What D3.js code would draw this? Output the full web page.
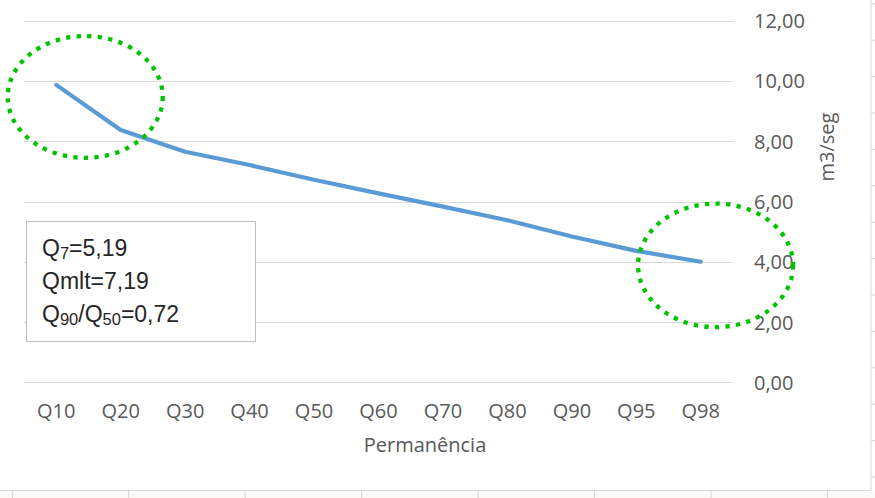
<!DOCTYPE html>
<html>
<head>
<meta charset="utf-8">
<script src="https://cdn.jsdelivr.net/npm/d3@7"></script>
<style>
  html, body { margin: 0; padding: 0; background: #ffffff; }
  svg { display: block; }
</style>
</head>
<body>
<svg id="chart" width="875" height="498"></svg>
<script>
// Curva de permanência: vazão (m3/seg) por percentil de permanência
const categories = ["Q10", "Q20", "Q30", "Q40", "Q50", "Q60", "Q70", "Q80", "Q90", "Q95", "Q98"];
const vazao = [9.87, 8.37, 7.65, 7.21, 6.72, 6.27, 5.83, 5.38, 4.84, 4.36, 4.00];
const yTicks = [0, 2, 4, 6, 8, 10, 12];
const yTitle = "m3/seg";
const xTitle = "Permanência";
// Linhas da caixa de texto: trechos [texto, é subscrito]
const boxLines = [
  [["Q", false], ["7", true], ["=5,19", false]],
  [["Qmlt=7,19", false]],
  [["Q", false], ["90", true], ["/Q", false], ["50", true], ["=0,72", false]]
];
// Destaques: categoria de referência, deslocamento em bandas, centro e meia-altura em m3/seg
const highlights = [
  { cat: "Q10", dx: 0.45, center: 9.47, ry: 2.02 },
  { cat: "Q98", dx: 0.23, center: 3.88, ry: 2.05 }
];

const W = 875, H = 498;
const svg = d3.select("#chart");
const font = "'Open Sans', 'Noto Sans', sans-serif";
const boxFont = "'Liberation Sans', Arial, sans-serif";
const labelColor = "#595959";

// Fundo de planilha por trás do gráfico (bordas de células)
const sheet = svg.append("g");
sheet.append("rect").attr("x", 0).attr("y", 0).attr("width", W).attr("height", H).attr("fill", "#ffffff");
sheet.append("rect").attr("x", 0).attr("y", 491).attr("width", W).attr("height", 7).attr("fill", "#fbfaf9");
d3.range(12.3, W, 116.45).forEach(x => {
  sheet.append("line").attr("x1", x).attr("x2", x).attr("y1", 491).attr("y2", H)
    .attr("stroke", "#d4d4d4").attr("stroke-width", 1);
});
d3.range(3.8, H, 36.4).forEach(y => {
  sheet.append("line").attr("x1", 871).attr("x2", W).attr("y1", y).attr("y2", y)
    .attr("stroke", "#d4d4d4").attr("stroke-width", 1);
});
// Área do gráfico
svg.append("rect").attr("x", -1).attr("y", -1).attr("width", 872).attr("height", 491.5)
  .attr("fill", "#ffffff").attr("stroke", "#d9d9d9").attr("stroke-width", 1);

const plot = { left: 24, right: 733, top: 20.7, bottom: 382.3 };

const x = d3.scaleBand().domain(categories).range([plot.left, plot.right]).paddingInner(0).paddingOuter(0);
const y = d3.scaleLinear().domain([0, 12]).range([plot.bottom, plot.top]);
const cx = c => x(c) + x.bandwidth() / 2;

const locale = d3.formatLocale({ decimal: ",", thousands: ".", grouping: [3], currency: ["R$", ""] });
const fmt = locale.format(".2f");

// Linhas de grade horizontais
svg.append("g")
  .selectAll("line")
  .data(yTicks)
  .join("line")
  .attr("x1", plot.left).attr("x2", plot.right)
  .attr("y1", d => Math.round(y(d)) + 0.5).attr("y2", d => Math.round(y(d)) + 0.5)
  .attr("stroke", "#d9d9d9").attr("stroke-width", 1);

// Eixo Y à direita
const yAxis = svg.append("g")
  .attr("transform", "translate(754,0)")
  .call(d3.axisRight(y).tickValues(yTicks).tickFormat(fmt).tickSize(0).tickPadding(0));
yAxis.select(".domain").remove();
yAxis.selectAll("text")
  .attr("dy", "0.35em")
  .attr("fill", labelColor)
  .style("font-family", font).style("font-size", "20px");

// Eixo X
const xAxis = svg.append("g")
  .attr("transform", `translate(0,${plot.bottom})`)
  .call(d3.axisBottom(x).tickSize(0).tickPadding(0));
xAxis.select(".domain").remove();
xAxis.selectAll("text")
  .attr("y", 29).attr("dy", "0.35em")
  .attr("fill", labelColor)
  .style("font-family", font).style("font-size", "20px");

// Títulos dos eixos
svg.append("text")
  .attr("x", 425).attr("y", 445).attr("dy", "0.35em")
  .attr("text-anchor", "middle")
  .attr("fill", labelColor)
  .style("font-family", font).style("font-size", "20px")
  .text(xTitle);
svg.append("text")
  .attr("transform", "translate(827,147) rotate(-90)")
  .attr("dy", "0.35em")
  .attr("text-anchor", "middle")
  .attr("fill", labelColor)
  .style("font-family", font).style("font-size", "20px")
  .text(yTitle);

// Série
const line = d3.line()
  .x((d, i) => cx(categories[i]))
  .y(d => y(d));
svg.append("path")
  .datum(vazao)
  .attr("d", line)
  .attr("fill", "none")
  .attr("stroke", "#5b9bd5")
  .attr("stroke-width", 4.2)
  .attr("stroke-linecap", "round")
  .attr("stroke-linejoin", "round");

// Caixa de texto com os indicadores
const box = svg.append("g");
box.append("rect")
  .attr("x", 26.5).attr("y", 221.5).attr("width", 229).attr("height", 120)
  .attr("fill", "#ffffff").attr("stroke", "#bfbfbf").attr("stroke-width", 1);
boxLines.forEach((parts, i) => {
  const t = box.append("text")
    .attr("x", 42).attr("y", 256 + i * 33)
    .attr("fill", "#262626")
    .style("font-family", boxFont).style("font-size", "23px");
  let shifted = false;
  parts.forEach(([s, sub]) => {
    const ts = t.append("tspan").text(s);
    if (sub) {
      ts.style("font-size", "16.5px");
      if (!shifted) { ts.attr("dy", 3); shifted = true; }
    } else if (shifted) {
      ts.attr("dy", -3); shifted = false;
    }
  });
});

// Elipses pontilhadas de destaque
svg.append("g")
  .selectAll("ellipse")
  .data(highlights)
  .join("ellipse")
  .attr("cx", d => cx(d.cat) + d.dx * x.bandwidth())
  .attr("cy", d => y(d.center))
  .attr("rx", 77.5)
  .attr("ry", d => y(0) - y(d.ry))
  .attr("fill", "none")
  .attr("stroke", "#00c400")
  .attr("stroke-width", 4.3)
  .attr("stroke-dasharray", "4.3 6.3");
</script>
</body>
</html>
